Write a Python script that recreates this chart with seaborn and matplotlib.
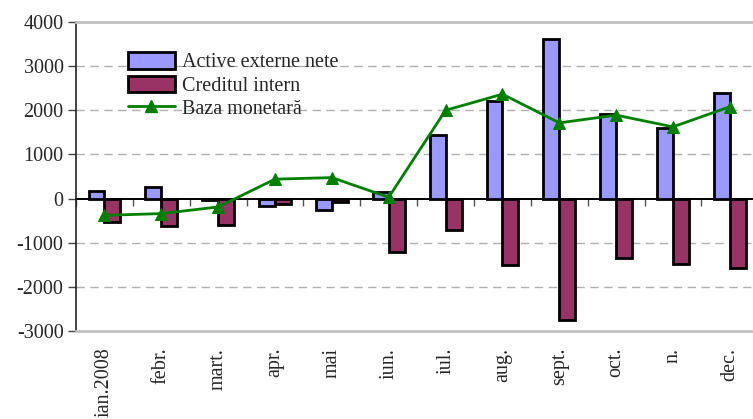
import numpy as np
import pandas as pd
import matplotlib
matplotlib.use("Agg")
import matplotlib.pyplot as plt
from matplotlib.patches import Patch
from matplotlib.lines import Line2D
import seaborn as sns

# data (mil. lei)
months = ["ian.2008", "febr.", "mart.", "apr.", "mai", "iun.",
          "iul.", "aug.", "sept.", "oct.", "n.", "dec."]
active_externe = [170, 270, -40, -160, -250, 140, 1430, 2200, 3620, 1920, 1590, 2390]
credit_intern = [-530, -620, -600, -115, -85, -1200, -710, -1505, -2750, -1345, -1490, -1565]
baza_monetara = [-380, -340, -190, 440, 475, 30, 2000, 2365, 1715, 1890, 1625, 2080]

ser_names = ["Active externe nete", "Creditul intern"]
bar_colors = ["#9999FF", "#993366"]
line_name = "Baza monetară"
line_color = "#008000"

df = pd.DataFrame({
    "luna": months * 2,
    "serie": [ser_names[0]] * 12 + [ser_names[1]] * 12,
    "val": active_externe + credit_intern,
})

sns.set_style("white")
plt.rcParams["font.family"] = ["Liberation Serif", "DejaVu Serif"]
plt.rcParams["axes.unicode_minus"] = False
fs = 14.5

fig = plt.figure(figsize=(7.53, 4.19), dpi=100)
ax = fig.add_axes([0.101, 0.210, 0.906, 0.7375])

sns.barplot(data=df, x="luna", y="val", hue="serie", order=months,
            hue_order=ser_names, palette=bar_colors, width=0.56, gap=0,
            saturation=1, edgecolor="black", linewidth=2, ax=ax, legend=False)
sns.lineplot(x=np.arange(len(months)), y=baza_monetara, color=line_color,
             marker="^", markersize=9, markeredgecolor=line_color,
             linewidth=2, ax=ax)

ax.set_ylim(-3000, 4000)
ax.set_yticks(range(-3000, 4001, 1000))
ax.set_xlim(-0.5, len(months) - 0.5)
ax.set_xlabel("")
ax.set_ylabel("")

# dashed gridlines, not at the frame or zero line
for v in [-2000, -1000, 1000, 2000, 3000]:
    ax.axhline(v, color="#b0b0b0", linestyle=(0, (6, 4)), linewidth=1, zorder=0)

for s in ["top", "bottom"]:
    ax.spines[s].set_color("#c0c0c0")
    ax.spines[s].set_linewidth(2)
ax.spines["right"].set_visible(False)
ax.spines["left"].set_color("#222222")
ax.spines["left"].set_linewidth(1.2)

ax.tick_params(axis="y", direction="out", length=6, width=1, color="#444444",
               left=True, pad=3)
ax.tick_params(axis="x", length=0, pad=12)
for lab in ax.get_yticklabels():
    lab.set_fontfamily("Liberation Serif")
    lab.set_fontsize(fs)
for lab in ax.get_xticklabels():
    lab.set_fontfamily("Liberation Serif")
    lab.set_fontsize(fs)
    lab.set_rotation(90)
    lab.set_va("top")
    lab.set_ha("center")

# zero line with category ticks
zero = ax.secondary_xaxis(3 / 7)
zero.set_xticks(np.arange(len(months) + 1) - 0.5)
zero.set_xticklabels([])
zero.tick_params(direction="out", length=5, width=1, color="#555555")
zero.spines["bottom"].set_color("black")
zero.spines["bottom"].set_linewidth(1.4)

handles = [Patch(facecolor=c, edgecolor="black", linewidth=2) for c in bar_colors]
handles.append(Line2D([], [], color=line_color, linewidth=2, marker="^",
                      markersize=9))
ax.legend(handles, ser_names + [line_name], loc="upper left",
          bbox_to_anchor=(0.05, 0.96), frameon=False, handlelength=2.3,
          handleheight=0.85, labelspacing=0.15, handletextpad=0.35,
          prop={"family": "Liberation Serif", "size": fs})

plt.savefig("out.png", dpi=100)
